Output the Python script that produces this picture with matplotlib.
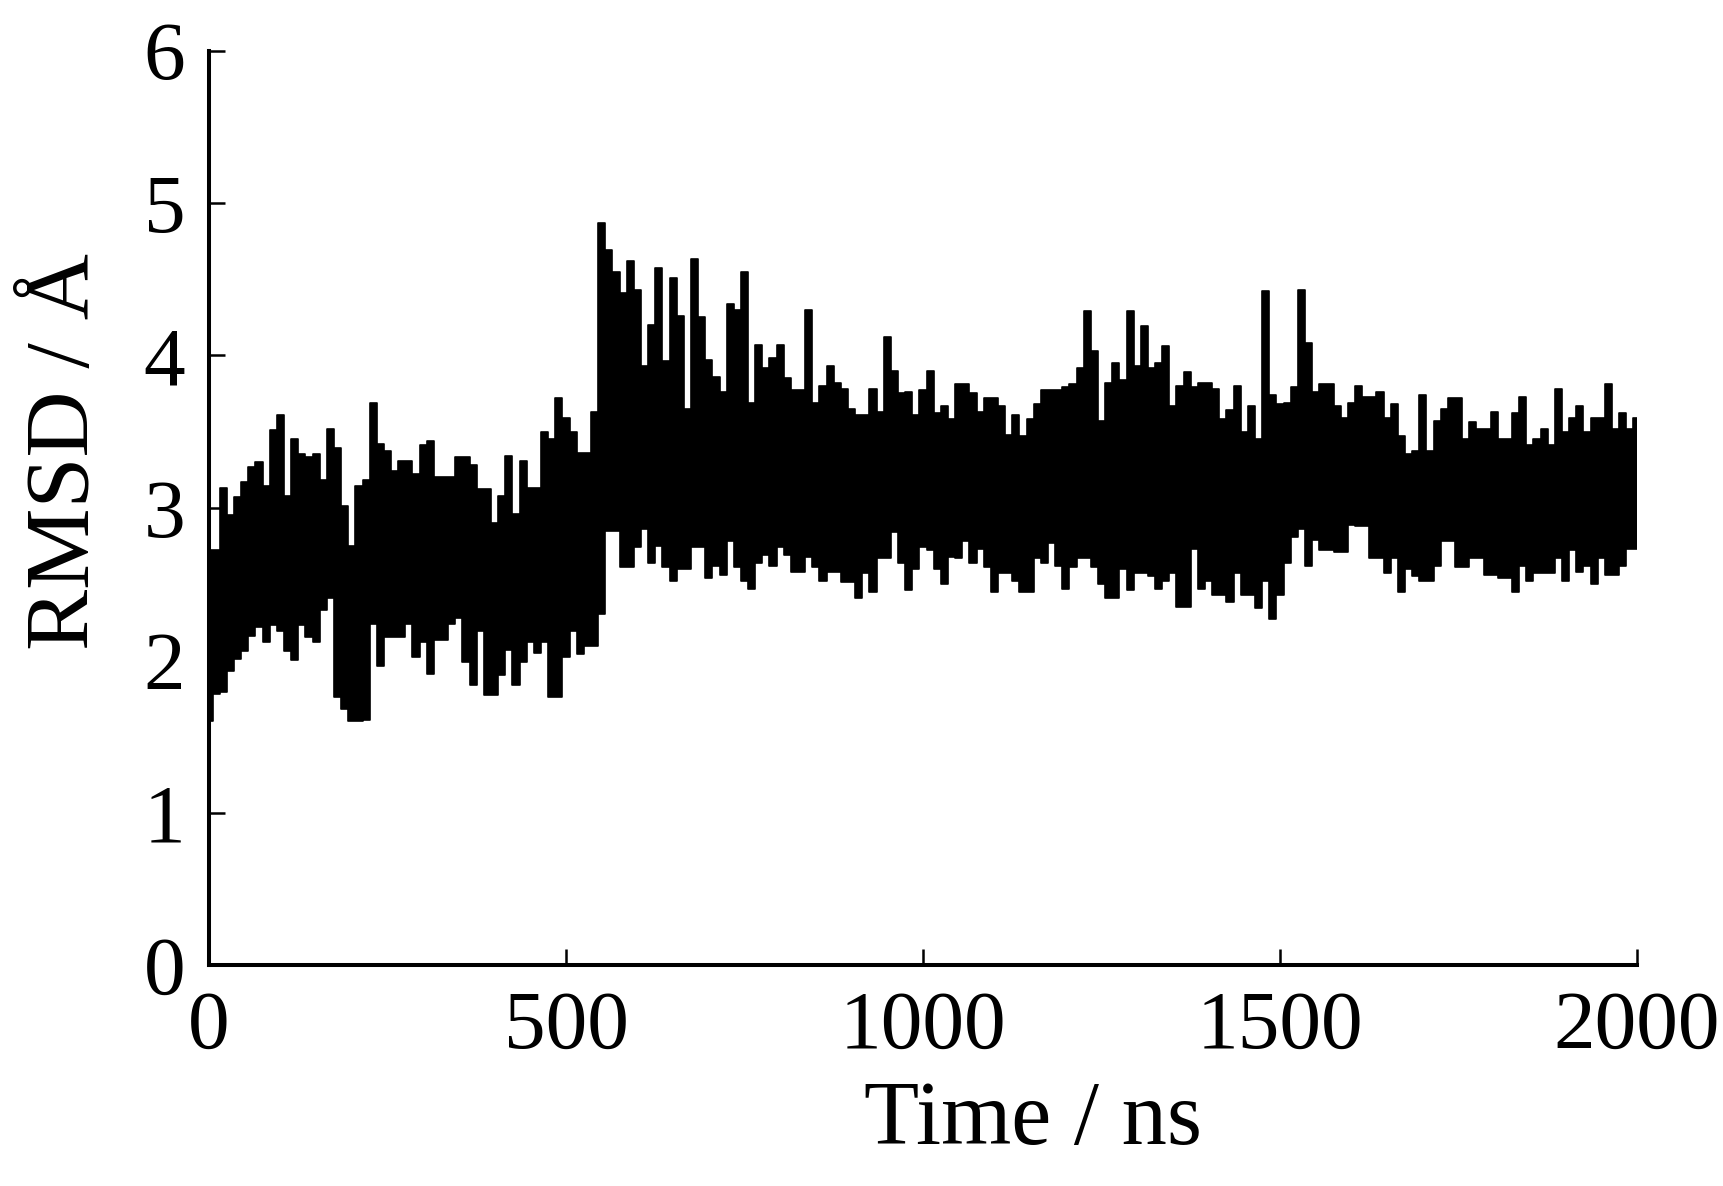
import numpy as np
import matplotlib
matplotlib.use("Agg")
import matplotlib.pyplot as plt

# Time axis (ns), sampled every 10 ns
time_ns = np.arange(0, 2001, 10)

# Upper envelope of the RMSD trace (Å)
rmsd_upper = [
    2.72, 2.72, 3.13, 2.95, 3.07, 3.17, 3.27, 3.30, 3.14, 3.51,
    3.61, 3.08, 3.45, 3.35, 3.33, 3.35, 3.18, 3.52, 3.39, 3.01,
    2.75, 3.14, 3.18, 3.69, 3.42, 3.37, 3.24, 3.31, 3.31, 3.22,
    3.41, 3.44, 3.20, 3.20, 3.20, 3.33, 3.33, 3.28, 3.12, 3.12,
    2.90, 3.08, 3.34, 2.96, 3.31, 3.13, 3.13, 3.50, 3.45, 3.72,
    3.59, 3.50, 3.36, 3.36, 3.63, 4.87, 4.69, 4.55, 4.41, 4.62,
    4.43, 3.93, 4.20, 4.57, 3.96, 4.51, 4.26, 3.65, 4.63, 4.25,
    3.97, 3.86, 3.76, 4.34, 4.30, 4.55, 3.69, 4.07, 3.92, 3.98,
    4.07, 3.85, 3.77, 3.77, 4.30, 3.69, 3.80, 3.93, 3.82, 3.78,
    3.65, 3.61, 3.61, 3.78, 3.63, 4.12, 3.90, 3.75, 3.76, 3.61,
    3.77, 3.90, 3.62, 3.67, 3.58, 3.81, 3.81, 3.75, 3.63, 3.72,
    3.72, 3.67, 3.48, 3.61, 3.47, 3.58, 3.68, 3.77, 3.77, 3.77,
    3.79, 3.81, 3.92, 4.29, 4.03, 3.57, 3.82, 3.95, 3.84, 4.29,
    3.93, 4.19, 3.92, 3.95, 4.06, 3.67, 3.80, 3.89, 3.79, 3.82,
    3.82, 3.78, 3.58, 3.64, 3.80, 3.50, 3.67, 3.45, 4.42, 3.74,
    3.68, 3.69, 3.79, 4.43, 4.08, 3.76, 3.81, 3.81, 3.67, 3.59,
    3.69, 3.80, 3.73, 3.73, 3.76, 3.59, 3.68, 3.47, 3.35, 3.37,
    3.74, 3.37, 3.57, 3.65, 3.72, 3.72, 3.45, 3.56, 3.52, 3.52,
    3.63, 3.45, 3.45, 3.62, 3.73, 3.41, 3.45, 3.52, 3.41, 3.78,
    3.50, 3.59, 3.67, 3.50, 3.59, 3.59, 3.81, 3.52, 3.62, 3.52,
    3.59,
]

# Lower envelope of the RMSD trace (Å)
rmsd_lower = [
    1.60, 1.78, 1.79, 1.93, 2.01, 2.06, 2.16, 2.22, 2.12, 2.23,
    2.19, 2.06, 2.00, 2.23, 2.15, 2.12, 2.33, 2.41, 1.76, 1.68,
    1.60, 1.60, 1.61, 2.24, 1.96, 2.15, 2.15, 2.15, 2.24, 2.02,
    2.12, 1.91, 2.13, 2.13, 2.24, 2.28, 1.99, 1.84, 2.19, 1.77,
    1.77, 1.90, 2.07, 1.84, 1.99, 2.12, 2.05, 2.12, 1.76, 1.76,
    2.02, 2.19, 2.04, 2.09, 2.09, 2.30, 2.85, 2.85, 2.61, 2.61,
    2.74, 2.86, 2.64, 2.75, 2.61, 2.52, 2.60, 2.60, 2.74, 2.74,
    2.54, 2.62, 2.56, 2.78, 2.61, 2.52, 2.47, 2.64, 2.69, 2.62,
    2.74, 2.69, 2.58, 2.58, 2.68, 2.61, 2.52, 2.58, 2.58, 2.51,
    2.51, 2.41, 2.57, 2.45, 2.67, 2.67, 2.84, 2.64, 2.46, 2.60,
    2.74, 2.72, 2.60, 2.50, 2.68, 2.67, 2.78, 2.64, 2.73, 2.61,
    2.45, 2.57, 2.57, 2.52, 2.45, 2.45, 2.67, 2.64, 2.77, 2.62,
    2.47, 2.61, 2.67, 2.67, 2.61, 2.50, 2.41, 2.41, 2.60, 2.46,
    2.57, 2.57, 2.55, 2.47, 2.52, 2.57, 2.35, 2.35, 2.73, 2.47,
    2.52, 2.43, 2.43, 2.38, 2.57, 2.43, 2.43, 2.34, 2.52, 2.27,
    2.43, 2.64, 2.81, 2.86, 2.62, 2.79, 2.72, 2.72, 2.71, 2.71,
    2.89, 2.88, 2.88, 2.67, 2.67, 2.57, 2.67, 2.45, 2.60, 2.55,
    2.52, 2.52, 2.62, 2.78, 2.78, 2.61, 2.61, 2.67, 2.67, 2.56,
    2.56, 2.54, 2.54, 2.45, 2.62, 2.52, 2.57, 2.57, 2.57, 2.67,
    2.52, 2.72, 2.58, 2.62, 2.50, 2.67, 2.56, 2.56, 2.62, 2.73,
    2.73,
]

x_ticks = [0, 500, 1000, 1500, 2000]
y_ticks = [0, 1, 2, 3, 4, 5, 6]

plt.rcParams['font.family'] = ['Liberation Serif', 'DejaVu Serif']

fig = plt.figure(figsize=(17.23, 11.86), dpi=100)
ax = fig.add_axes([0.1213, 0.1863, 0.8288, 0.7711])

ax.fill_between(time_ns, rmsd_lower, rmsd_upper, step='mid',
                color='black', linewidth=0)
ax.step(time_ns, rmsd_upper, where='mid', color='black', linewidth=1.2)
ax.step(time_ns, rmsd_lower, where='mid', color='black', linewidth=1.2)

ax.set_xlim(0, 2000)
ax.set_ylim(0, 6)
ax.set_xticks(x_ticks)
ax.set_yticks(y_ticks)

for side in ['top', 'right']:
    ax.spines[side].set_visible(False)
for side in ['left', 'bottom']:
    ax.spines[side].set_linewidth(2.9)

ax.tick_params(axis='both', direction='in', length=11.5, width=1.8, labelsize=60)
ax.tick_params(axis='x', pad=18)
ax.tick_params(axis='y', pad=17)

ax.set_xlabel('Time / ns', fontsize=65)
ax.set_ylabel('RMSD / Å', fontsize=66)
ax.xaxis.set_label_coords(0.577, -0.126)
ax.yaxis.set_label_coords(-0.071, 0.562)

fig.savefig('out.png', dpi=100, facecolor='white')
